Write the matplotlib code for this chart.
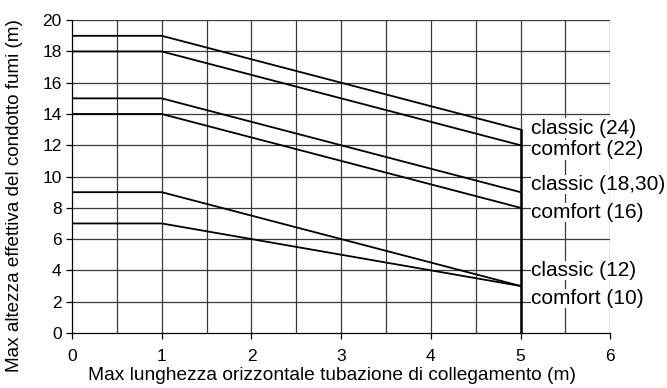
import numpy as np
import matplotlib.pyplot as plt

plt.rcParams['font.family'] = ['Liberation Sans', 'DejaVu Sans']

# lunghezza orizzontale (m)
x_pts = [0, 1, 5]
# altezza max per modello
classic_24 = [19, 19, 13]
comfort_22 = [18, 18, 12]
classic_18_30 = [15, 15, 9]
comfort_16 = [14, 14, 8]
classic_12 = [9, 9, 3]
comfort_10 = [7, 7, 3]

series = [classic_24, comfort_22, classic_18_30, comfort_16, classic_12, comfort_10]
labels = ["classic (24)", "comfort (22)", "classic (18,30)",
          "comfort (16)", "classic (12)", "comfort (10)"]
label_y = [13.1, 11.7, 9.5, 7.7, 4.0, 2.2]

fig = plt.figure(figsize=(6.67, 3.88), dpi=100)
ax = fig.add_axes([0.108, 0.142, 0.807, 0.806])

ax.set_xlim(0, 6)
ax.set_ylim(0, 20)
ax.set_xticks(np.arange(0, 7, 1))
ax.set_yticks(np.arange(0, 21, 2))

# griglia: verticali ogni 0.5, orizzontali ogni 2
for gx in np.arange(0.5, 6.01, 0.5):
    ax.axvline(gx, color='#3a3a3a', lw=0.9, zorder=1)
for gy in np.arange(2, 20.01, 2):
    ax.axhline(gy, color='#3a3a3a', lw=0.9, zorder=1)

for s in series:
    ax.plot(x_pts, s, color='black', lw=1.3, zorder=3)

# linea verticale a 5 m
ax.plot([5, 5], [0, max(classic_24[-1], comfort_22[-1])], color='black', lw=1.8, zorder=3)

for lab, ly in zip(labels, label_y):
    ax.text(5.12, ly, lab, fontsize=15, va='center', ha='left', zorder=4,
            bbox=dict(facecolor='white', edgecolor='none', pad=0.2))

for side in ['top', 'right']:
    ax.spines[side].set_visible(False)
ax.spines['left'].set_linewidth(0.9)
ax.spines['bottom'].set_linewidth(0.9)
ax.tick_params(direction='out', length=4.5, width=0.9, labelsize=12.5)
ax.tick_params(axis='x', pad=7)
ax.tick_params(axis='y', pad=3)

ax.set_xlabel("Max lunghezza orizzontale tubazione di collegamento (m)", fontsize=13.8)
ax.set_ylabel("Max altezza effettiva del condotto fumi (m)", fontsize=13.6)
ax.xaxis.set_label_coords(0.483, -0.108, transform=ax.transAxes)
ax.yaxis.set_label_coords(-0.106, 0.44, transform=ax.transAxes)
ax.xaxis.label.set_va('top')
ax.yaxis.label.set_va('center')

fig.savefig("out.png", dpi=100)
